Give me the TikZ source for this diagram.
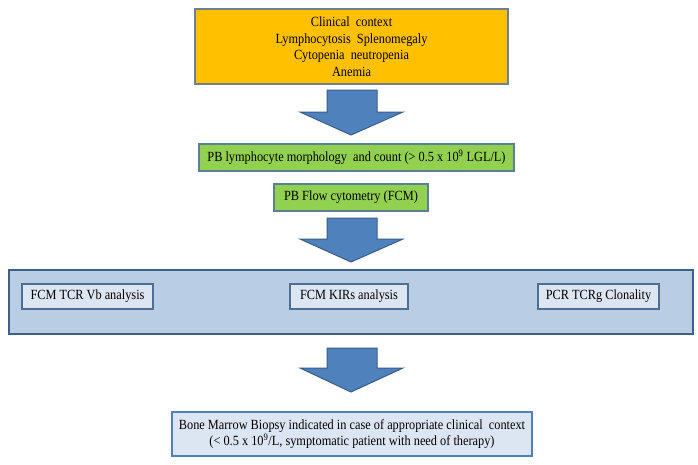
\documentclass[tikz,border=0pt]{standalone}
\usepackage{fontspec}
\setmainfont[FakeStretch=0.88]{Liberation Serif}
\begin{document}
\begin{tikzpicture}[x=1pt,y=-1pt,
  box/.style={draw, line width=1.6pt, inner sep=0pt, align=center, font=\fontsize{14}{16.5}\selectfont},
  orangebox/.style={box, fill=orfill, draw=orline},
  greenbox/.style={box, fill=grfill, draw=grline},
  bigbox/.style={draw=bigline, line width=2.2pt, fill=bigfill},
  innerbox/.style={box, fill=infill, draw=inline, line width=1.4pt},
  bottombox/.style={box, fill=infill, draw=botline, line width=2pt},
  blockarrow/.style={fill=arfill, draw=arline, line width=1pt, line join=miter}
]
\definecolor{orfill}{HTML}{FFC000}
\definecolor{orline}{HTML}{6F7F8F}
\definecolor{grfill}{HTML}{92D050}
\definecolor{grline}{HTML}{5B7F96}
\definecolor{bigfill}{HTML}{B9CDE5}
\definecolor{bigline}{HTML}{3F5F86}
\definecolor{infill}{HTML}{DCE6F2}
\definecolor{inline}{HTML}{4F6E96}
\definecolor{botline}{HTML}{4F81BD}
\definecolor{arfill}{HTML}{4F81BD}
\definecolor{arline}{HTML}{385D8A}
\useasboundingbox (0,0) rectangle (698,464);
\fill[white] (0,0) rectangle (698,464);

\node[orangebox, minimum width=313, minimum height=75] (ctx) at (351.5,46.5)
  {Clinical\ \ context\\Lymphocytosis\ \ Splenomegaly\\Cytopenia\ \ neutropenia\\Anemia};
\node[greenbox, minimum width=315, minimum height=27] (pb) at (356.5,157.5)
  {PB lymphocyte morphology\ \ and count (> 0.5 x 10\textsuperscript{9} LGL/L)};
\node[greenbox, minimum width=154, minimum height=27] (fcm) at (351,197.5)
  {PB Flow cytometry (FCM)};
\node[bigbox, minimum width=684, minimum height=64, inner sep=0pt] (big) at (351,302) {};
\node[innerbox, minimum width=131, minimum height=25] (vb) at (87.5,296.5) {FCM TCR Vb analysis};
\node[innerbox, minimum width=118, minimum height=25] (kir) at (349,296.5) {FCM KIRs analysis};
\node[innerbox, minimum width=121, minimum height=25] (pcr) at (598.5,296.5) {PCR TCRg Clonality};
\node[bottombox, minimum width=360, minimum height=44] (bmb) at (352,434)
  {Bone Marrow Biopsy indicated in case of appropriate clinical\ \ context\\(< 0.5 x 10\textsuperscript{9}/L, symptomatic patient with need of therapy)};

% block arrows
\newcommand{\blockarr}[3]{%
  \draw[blockarrow] (327,#1) -- (377,#1) -- (377,#2) -- (403,#2) -- (351,#3)
    -- (300,#2) -- (327,#2) -- cycle;}
\blockarr{90}{112}{135}
\blockarr{218}{239}{262}
\blockarr{348}{368}{392}
\end{tikzpicture}
\end{document}
